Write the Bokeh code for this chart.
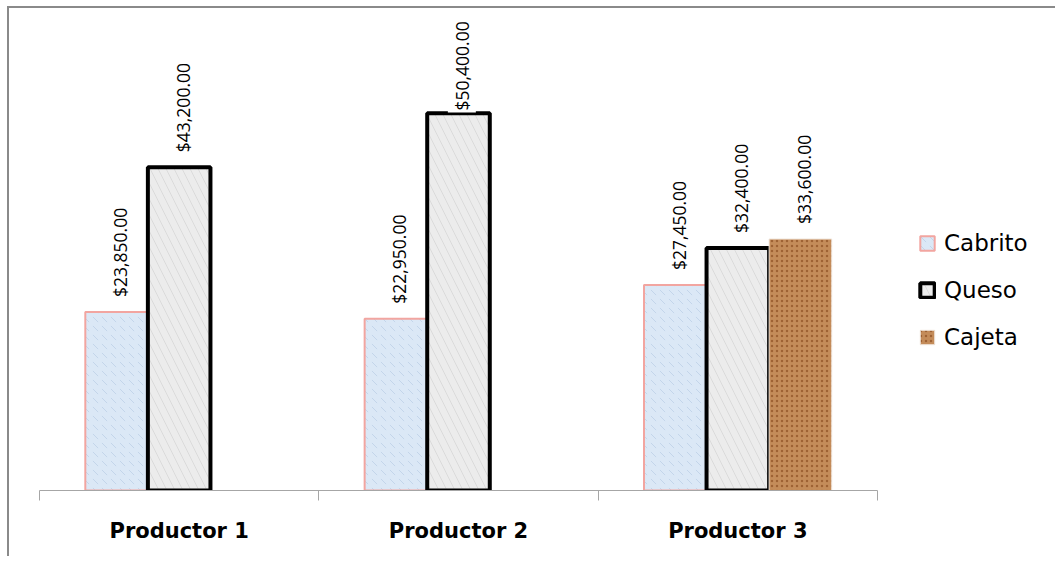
import math
from bokeh.plotting import figure
from bokeh.models import (FactorRange, Range1d, LinearAxis, CategoricalAxis, FixedTicker,
                          Legend, LegendItem, ColumnDataSource)
from bokeh.transform import dodge
from bokeh.core.properties import value
from bokeh.embed import file_html
from bokeh.resources import INLINE

# ---- data ----
productores = ["Productor 1", "Productor 2", "Productor 3"]
series = ["Cabrito", "Queso", "Cajeta"]
cabrito = [23850, 22950, 27450]
queso = [43200, 50400, 32400]
cajeta = [0, 0, 33600]

# ---- layout constants ----
Y_END = 63600
FRAME_W, FRAME_H = 838, 476
BAR_W = 0.224
OFFSETS = [-BAR_W, 0.0, BAR_W]
upp = Y_END / FRAME_H          # data units per pixel
LABEL_GAP = 13 * upp
LABEL_LEN = 98 * upp

p = figure(x_range=FactorRange(factors=productores, range_padding=0),
           y_range=Range1d(0, Y_END),
           frame_width=FRAME_W, frame_height=FRAME_H,
           min_border_left=30, min_border_right=170, min_border_top=6, min_border_bottom=66,
           x_axis_location=None, y_axis_location=None,
           output_backend="svg", toolbar_location=None, tools="")
p.outline_line_color = None
p.background_fill_color = "white"
p.border_fill_color = "white"
p.grid.grid_line_color = None
p.styles = {"border-left": "2px solid #8a8a8a", "border-top": "2px solid #8a8a8a",
            "margin-left": "7px", "margin-top": "6px"}

# axis with ticks at category boundaries (synthetic coordinates 0..3)
tick_axis = LinearAxis(ticker=FixedTicker(ticks=[0, 1, 2, 3]),
                       major_label_overrides={0: "", 1: "", 2: "", 3: ""},
                       major_label_text_font_size="1px", major_label_standoff=0,
                       major_tick_in=0, major_tick_out=10, minor_tick_in=0, minor_tick_out=0,
                       axis_line_color="#a6a6a6", major_tick_line_color="#a6a6a6",
                       minor_tick_line_color=None)
p.add_layout(tick_axis, "below")
cat_axis = CategoricalAxis(axis_line_color=None, major_tick_line_color=None,
                           minor_tick_line_color=None,
                           major_label_text_font="DejaVu Sans",
                           major_label_text_font_style="bold",
                           major_label_text_font_size="21px",
                           major_label_text_color="black",
                           major_label_standoff=12)
p.add_layout(cat_axis, "below")

src = ColumnDataSource(dict(productor=productores, Cabrito=cabrito, Queso=queso, Cajeta=cajeta))

styles = {
    "Cabrito": dict(fill_color="#dbe8f6", line_color="#f2a5a0", line_width=2,
                    hatch_pattern="`", hatch_color="#b9cde6", hatch_alpha=0.7,
                    hatch_scale=9, hatch_weight=1),
    "Queso": dict(fill_color="#ececec", line_color="black", line_width=4,
                  hatch_pattern="\\", hatch_color="#cfcfcf", hatch_alpha=0.6,
                  hatch_scale=16, hatch_weight=1),
    "Cajeta": dict(fill_color="#c48c5a", line_color="#efe4da", line_width=1,
                   hatch_pattern=".", hatch_color="#93562a", hatch_alpha=0.8,
                   hatch_scale=5, hatch_weight=2),
}

renderers = []
for name, off in zip(series, OFFSETS):
    r = p.vbar(x=dodge("productor", off, range=p.x_range), top=name, width=BAR_W,
               source=src, **styles[name])
    renderers.append(r)

# value labels
for vals, off in zip([cabrito, queso, cajeta], OFFSETS):
    facs = [f for f, v in zip(productores, vals) if v > 0]
    vs = [v for v in vals if v > 0]
    ys = [min(v + LABEL_GAP, Y_END - LABEL_LEN) for v in vs]
    txt = ["${:,.2f}".format(v) for v in vs]
    lsrc = ColumnDataSource(dict(x=facs, y=ys, t=txt))
    p.text(x=dodge("x", off + 0.012, range=p.x_range), y="y", text="t", source=lsrc,
           angle=math.pi / 2, text_align="left", text_baseline="middle",
           text_font=value("Open Sans"), text_font_size="17.5px", text_color="black",
           background_fill_color="white", padding=2)

legend = Legend(items=[LegendItem(label=n, renderers=[r]) for n, r in zip(series, renderers)],
                location=(41, 138), orientation="vertical",
                border_line_color=None, background_fill_alpha=0,
                glyph_width=18, glyph_height=18, label_height=30, spacing=17,
                padding=0, margin=0, label_standoff=8,
                label_text_font="DejaVu Sans", label_text_font_size="23px",
                label_text_color="black")
p.add_layout(legend, "right")

open("out.html", "w").write(file_html(p, INLINE))
